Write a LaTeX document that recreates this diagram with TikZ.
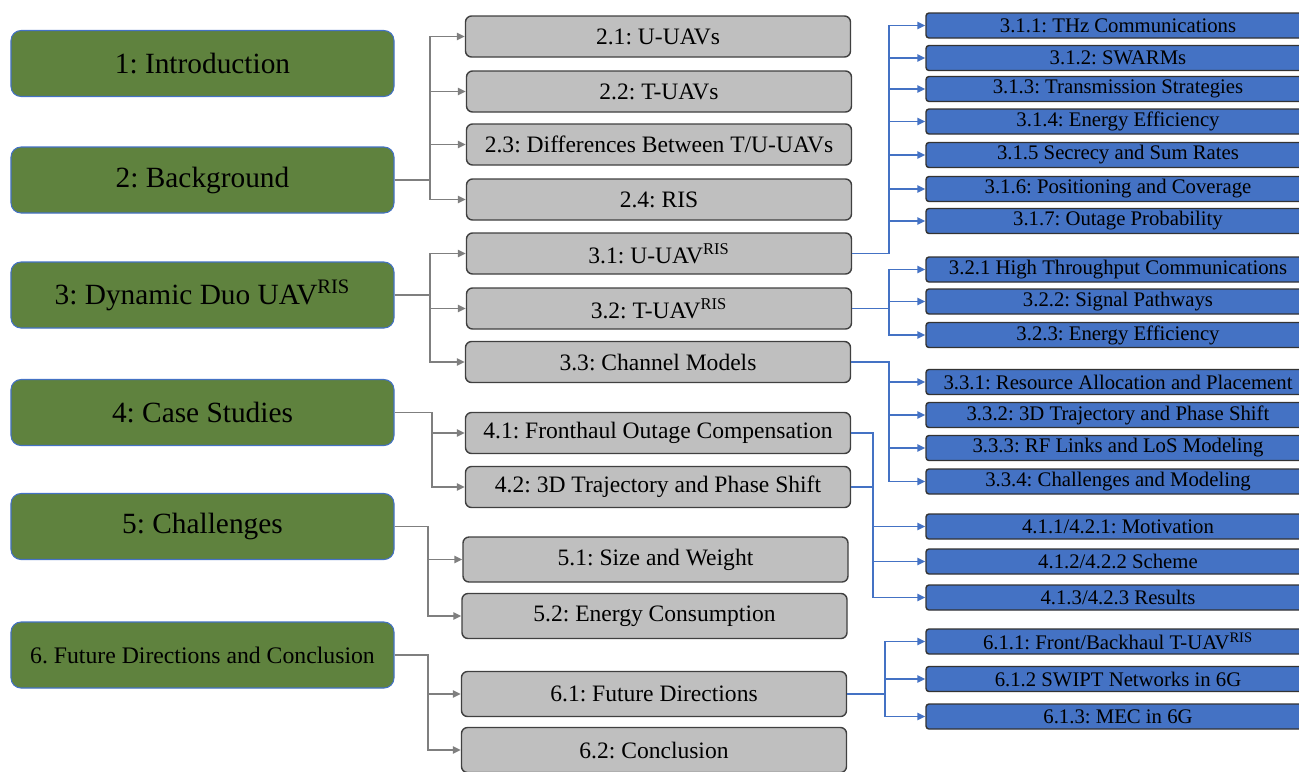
\documentclass[tikz,border=0pt]{standalone}
\usepackage{fontspec}
\setmainfont{Liberation Serif}
\usepackage{tikz}
\usetikzlibrary{positioning,arrows.meta}
\definecolor{secgreen}{RGB}{95,130,62}
\definecolor{secedge}{RGB}{68,114,196}
\definecolor{subgray}{RGB}{191,191,191}
\definecolor{leafblue}{RGB}{68,114,196}
\definecolor{linkgray}{RGB}{127,127,127}
\frenchspacing

\begin{document}
\begin{tikzpicture}[
  x=0.2mm, y=-0.2mm,
  sec/.style={rectangle, draw=secedge, line width=0.6pt, fill=secgreen, rounded corners=2mm,
              minimum width=76.6mm, minimum height=13.2mm, inner sep=0pt,
              font=\fontsize{16.7}{18}\selectfont},
  sub/.style={rectangle, draw=black!75, line width=0.8pt, fill=subgray, rounded corners=1.2mm,
              minimum width=77mm, minimum height=8.2mm, inner sep=0pt,
              font=\fontsize{13.4}{15}\selectfont},
  leaf/.style={rectangle, draw=black!80, line width=0.8pt, fill=leafblue, rounded corners=0.6mm,
              minimum width=76.8mm, minimum height=5mm, inner sep=0pt,
              font=\fontsize{11.8}{13}\selectfont},
  link/.style={draw=linkgray, line width=1.1pt, -{Triangle[length=4.5pt,width=4pt]}},
  blink/.style={link, draw=leafblue}
]
  \useasboundingbox (0,0) rectangle (1299,771);

  % main sections
  \node[sec] (intro)  at (202.5,63.5)  {1: Introduction};
  \node[sec] (backg)  at (202.5,180)   {2: Background};
  \node[sec] (duo)    at (202.5,295)   {3: Dynamic Duo UAV\textsuperscript{RIS}};
  \node[sec] (cases)  at (202.5,412.5) {4: Case Studies};
  \node[sec] (chall)  at (202.5,526.5) {5: Challenges};
  \node[sec, font=\fontsize{13.5}{15}\selectfont] (future) at (202.5,655) {6. Future Directions and Conclusion};

  % subsections
  \node[sub] (uuav)   at (658,36.5)  {2.1: U-UAVs};
  \node[sub] (tuav)   at (659,91.5)  {2.2: T-UAVs};
  \node[sub] (diff)   at (659,144.5) {2.3: Differences Between T/U-UAVs};
  \node[sub] (ris)    at (659,199.5) {2.4: RIS};
  \node[sub] (uris)   at (659,253.5) {3.1: U-UAV\textsuperscript{RIS}};
  \node[sub] (tris)   at (659,308.5) {3.2: T-UAV\textsuperscript{RIS}};
  \node[sub] (chan)   at (658,362)   {3.3: Channel Models};
  \node[sub] (front)  at (658,433)   {4.1: Fronthaul Outage Compensation};
  \node[sub] (traj)   at (658,487)   {4.2: 3D Trajectory and Phase Shift};
  \node[sub, minimum height=9mm] (size)   at (655.5,559.5) {5.1: Size and Weight};
  \node[sub, minimum height=9mm] (energy) at (654.5,616)   {5.2: Energy Consumption};
  \node[sub, minimum height=9mm] (fdir)   at (654,694)     {6.1: Future Directions};
  \node[sub, minimum height=9mm] (concl)  at (654,750)     {6.2: Conclusion};

  % subsubsections
  \node[leaf] (thz)     at (1118,25.5)  {3.1.1: THz Communications};
  \node[leaf] (swarm)   at (1118,58)    {3.1.2: SWARMs};
  \node[leaf] (trans)   at (1118,89)    {3.1.3: Transmission Strategies};
  \node[leaf] (eff)     at (1118,121.5) {3.1.4: Energy Efficiency};
  \node[leaf] (secr)    at (1118,155)   {3.1.5 Secrecy and Sum Rates};
  \node[leaf] (pos)     at (1118,189)   {3.1.6: Positioning and Coverage};
  \node[leaf] (outage)  at (1118,221)   {3.1.7: Outage Probability};
  \node[leaf] (hitp)    at (1118,269.5) {3.2.1 High Throughput Communications};
  \node[leaf] (sigp)    at (1118,301.5) {3.2.2: Signal Pathways};
  \node[leaf] (efft)    at (1118,335)   {3.2.3: Energy Efficiency};
  \node[leaf] (alloc)   at (1118,382)   {3.3.1: Resource Allocation and Placement};
  \node[leaf] (phase)   at (1118,415)   {3.3.2: 3D Trajectory and Phase Shift};
  \node[leaf] (rflos)   at (1118,448)   {3.3.3: RF Links and LoS Modeling};
  \node[leaf] (chmod)   at (1118,481.5) {3.3.4: Challenges and Modeling};
  \node[leaf] (motiv)   at (1118,526.5) {4.1.1/4.2.1: Motivation};
  \node[leaf] (scheme)  at (1118,561.5) {4.1.2/4.2.2 Scheme};
  \node[leaf] (results) at (1118,597.5) {4.1.3/4.2.3 Results};
  \node[leaf] (fbh)     at (1118,641.5) {6.1.1: Front/Backhaul T-UAV\textsuperscript{RIS}};
  \node[leaf] (swipt)   at (1118,679)   {6.1.2 SWIPT Networks in 6G};
  \node[leaf] (mec)     at (1118,716.5) {6.1.3: MEC in 6G};

  % gray links
  \foreach \c in {uuav,tuav,diff,ris}
    \draw[link] (backg.east) -- ++(35,0) |- (\c.west);
  \foreach \c in {uris,tris,chan}
    \draw[link] (duo.east) -- ++(35,0) |- (\c.west);
  \foreach \c in {front,traj}
    \draw[link] (cases.east) -- ++(37,0) |- (\c.west);
  \foreach \c in {size,energy}
    \draw[link] (chall.east) -- ++(33,0) |- (\c.west);
  \foreach \c in {fdir,concl}
    \draw[link] (future.east) -- ++(33,0) |- (\c.west);

  % blue links
  \foreach \c in {thz,swarm,trans,eff,secr,pos,outage}
    \draw[blink] (uris.east) -- ++(37,0) |- (\c.west);
  \foreach \c in {hitp,sigp,efft}
    \draw[blink] (tris.east) -- ++(37,0) |- (\c.west);
  \foreach \c in {alloc,phase,rflos,chmod}
    \draw[blink] (chan.east) -- ++(38,0) |- (\c.west);
  \foreach \c in {motiv,scheme,results}
    \draw[blink] (front.east) -- ++(22,0) |- (\c.west);
  \draw[blink, -] (traj.east) -- ++(22,0);
  \foreach \c in {fbh,swipt,mec}
    \draw[blink] (fdir.east) -- ++(38,0) |- (\c.west);
\end{tikzpicture}
\end{document}
